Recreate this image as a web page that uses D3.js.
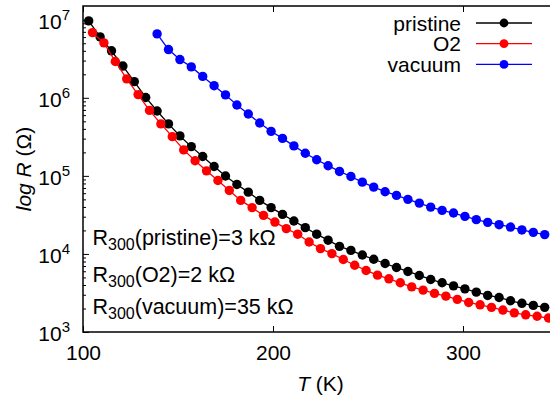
<!doctype html>
<html>
<head>
<meta charset="utf-8">
<style>
    body { margin: 0; background: #fff; }
    svg text { font-family: "Liberation Sans", Arial, Helvetica, sans-serif; fill: #000; }
</style>
<script src="https://d3js.org/d3.v7.min.js"></script>
</head>
<body>
<svg width="550" height="398"></svg>
<script>
// temperatures (K) and resistances (Ohm)
var tPristine = [103,109,115,121,127,133,139,145,151,157,163,169,175,181,187,193,199,205,211,217,223,229,235,241,247,253,259,265,271,277,283,289,295,301,307,313,319,325,331,337,343];
var rPristine = [9.66e6,6.03e6,4.00e6,2.55e6,1.61e6,1.01e6,6.78e5,4.63e5,3.25e5,2.37e5,1.77e5,1.32e5,9.97e4,7.77e4,6.19e4,4.85e4,3.92e4,3.21e4,2.64e4,2.17e4,1.79e4,1.50e4,1.25e4,1.11e4,9.68e3,8.55e3,7.54e3,6.70e3,5.96e3,5.30e3,4.71e3,4.27e3,3.90e3,3.57e3,3.24e3,2.94e3,2.77e3,2.51e3,2.33e3,2.19e3,2.07e3];

var tO2 = [105,111,117,123,129,135,141,147,153,159,165,171,177,183,189,195,201,207,213,219,225,231,237,243,249,255,261,267,273,279,285,291,297,303,309,315,321,327,333,339,345];
var rO2 = [6.84e6,5.06e6,2.92e6,1.75e6,1.10e6,6.90e5,4.63e5,3.18e5,2.15e5,1.56e5,1.16e5,8.73e4,6.51e4,4.85e4,3.92e4,3.12e4,2.56e4,2.11e4,1.79e4,1.42e4,1.17e4,1.01e4,8.48e3,7.17e3,6.14e3,5.35e3,4.80e3,4.27e3,3.79e3,3.44e3,3.12e3,2.88e3,2.62e3,2.39e3,2.23e3,2.07e3,1.91e3,1.76e3,1.66e3,1.59e3,1.51e3];

var tVacuum = [139,145,151,157,163,169,175,181,187,193,199,205,211,217,223,229,235,241,247,253,259,265,271,277,283,289,295,301,307,313,319,325,331,337,343];
var rVacuum = [6.59e6,4.15e6,3.09e6,2.49e6,1.88e6,1.43e6,1.09e6,8.09e5,6.21e5,4.76e5,3.72e5,3.02e5,2.42e5,1.95e5,1.61e5,1.35e5,1.14e5,9.82e4,8.31e4,7.18e4,6.27e4,5.62e4,5.00e4,4.48e4,3.98e4,3.61e4,3.34e4,3.03e4,2.75e4,2.54e4,2.37e4,2.21e4,2.03e4,1.89e4,1.77e4];

var seriesNames = ["pristine", "O2", "vacuum"];
var seriesColors = ["#000000", "#ff0000", "#0000ff"];
var xTicks = [100, 200, 300];
var yTicks = [1e3, 1e4, 1e5, 1e6, 1e7];
var notes = ["(pristine)=3 k\u03A9", "(O2)=2 k\u03A9", "(vacuum)=35 k\u03A9"];

var svg = d3.select("svg"),
    plotL = 83, plotT = 6, plotR = 558, plotB = 332;

var x = d3.scaleLinear().domain([100, 350]).range([plotL, plotR]);
var y = d3.scaleLog().domain([1e3, 1.5e7]).range([plotB, plotT]);

// ticks (inward, gnuplot style)
var bx = svg.append("g").attr("transform", "translate(0," + plotB + ")")
    .call(d3.axisBottom(x).tickValues(xTicks).tickSize(-6).tickFormat(d3.format("d")));
bx.select(".domain").remove();
bx.selectAll("text").attr("y", 28).attr("dy", null).attr("font-size", 21);

var tx = svg.append("g").attr("transform", "translate(0," + plotT + ")")
    .call(d3.axisTop(x).tickValues(xTicks).tickSize(-6).tickFormat(""));
tx.select(".domain").remove();

var minor = y.ticks().filter(function(d) { return yTicks.indexOf(d) < 0; });
var ly = svg.append("g").attr("transform", "translate(" + plotL + ",0)")
    .call(d3.axisLeft(y).tickValues(yTicks).tickSize(-6).tickFormat(""));
ly.select(".domain").remove();
var lym = svg.append("g").attr("transform", "translate(" + plotL + ",0)")
    .call(d3.axisLeft(y).tickValues(minor).tickSize(-3).tickFormat(""));
lym.select(".domain").remove();

// y tick labels 10^n
var yl = svg.append("g").selectAll("text").data(yTicks).enter().append("text")
    .attr("x", 70).attr("y", function(d) { return y(d) + 9; })
    .attr("text-anchor", "end").attr("font-size", 21);
yl.append("tspan").text("10");
yl.append("tspan").attr("font-size", 15).attr("dy", -9)
    .text(function(d) { return Math.round(Math.log10(d)); });

// frame
svg.append("path")
    .attr("d", "M" + plotR + "," + plotT + "H" + plotL + "V" + plotB + "H" + plotR)
    .attr("fill", "none").attr("stroke", "#000").attr("stroke-width", 1.5);

// axis titles
var xt = svg.append("text").attr("x", (plotL + plotR) / 2).attr("y", 391)
    .attr("text-anchor", "middle").attr("font-size", 21);
xt.append("tspan").attr("font-style", "italic").text("T");
xt.append("tspan").text(" (K)");

var yt = svg.append("text")
    .attr("transform", "translate(31," + (plotT + plotB) / 2 + ") rotate(-90)")
    .attr("text-anchor", "middle").attr("font-size", 21);
yt.append("tspan").attr("font-style", "italic").text("log R");
yt.append("tspan").text(" (\u03A9)");

// series
var data = [
    d3.zip(tPristine, rPristine),
    d3.zip(tO2, rO2),
    d3.zip(tVacuum, rVacuum)
];
var line = d3.line().x(function(d) { return x(d[0]); }).y(function(d) { return y(d[1]); });

data.forEach(function(s, i) {
    var g = svg.append("g");
    g.append("path").attr("d", line(s))
        .attr("fill", "none").attr("stroke", seriesColors[i]).attr("stroke-width", 1.3);
    g.selectAll("circle").data(s).enter().append("circle")
        .attr("cx", function(d) { return x(d[0]); })
        .attr("cy", function(d) { return y(d[1]); })
        .attr("r", 4.7).attr("fill", seriesColors[i]);
});

// legend
seriesNames.forEach(function(n, i) {
    var ly0 = 23 + i * 20.7;
    svg.append("text").attr("x", 461).attr("y", ly0 + 7.5)
        .attr("text-anchor", "end").attr("font-size", 21).text(n);
    svg.append("line").attr("x1", 476).attr("x2", 532).attr("y1", ly0).attr("y2", ly0)
        .attr("stroke", seriesColors[i]).attr("stroke-width", 1.3);
    svg.append("circle").attr("cx", 504).attr("cy", ly0).attr("r", 4.4).attr("fill", seriesColors[i]);
});

// annotations
var noteY = [245, 281.5, 314];
notes.forEach(function(n, i) {
    var t = svg.append("text").attr("x", 92.5).attr("y", noteY[i]).attr("font-size", 21.5);
    t.append("tspan").text("R");
    t.append("tspan").attr("font-size", 16).attr("dy", 5).text("300");
    t.append("tspan").attr("dy", -5).text(n);
});
</script>
</body>
</html>
